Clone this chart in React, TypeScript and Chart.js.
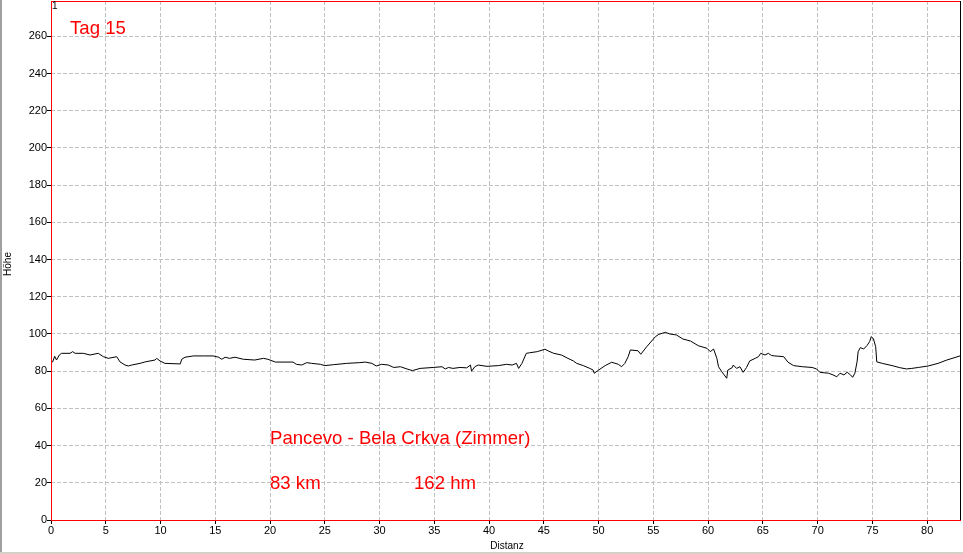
import React, { useEffect, useRef } from "react";
import { Chart, registerables } from "chart.js";

Chart.register(...registerables);

const distKm = [
  0, 0.15, 0.34, 0.5, 0.76, 0.97, 1.74, 1.98, 2.2, 2.95, 3.56, 4.32, 4.78, 5.24, 6.0, 6.3, 6.76, 7.06, 7.36, 8.13,
  8.6, 9.5, 9.65, 9.95, 10.4, 11.8, 11.94, 12.24, 13.0, 13.9, 14.8, 15.3, 15.6, 15.9, 16.3, 16.8, 17.56, 18.6, 19.4,
  19.8, 20.5, 22.1, 22.4, 22.9, 23.35, 23.8, 24.6, 25.0, 25.8, 27.0, 28.2, 28.7, 29.3, 29.7, 30.2, 30.8, 31.3, 31.9,
  32.5, 33.0, 33.7, 34.9, 35.7, 36.0, 36.3, 36.7, 37.35, 37.96, 38.3, 38.4, 38.7, 39.0, 39.8, 40.85, 41.6, 42.1,
  42.5, 42.7, 43.0, 43.4, 43.7, 44.4, 45.1, 45.4, 45.9, 46.6, 47.2, 47.7, 48.0, 48.6, 49.2, 49.5, 49.6, 50.0, 50.6,
  51.2, 51.8, 52.1, 52.4, 52.7, 52.9, 53.6, 53.85, 54.4, 55.2, 55.5, 56.1, 56.5, 57.1, 57.7, 58.4, 59.1, 59.9, 60.2,
  60.5, 60.8, 60.95, 61.25, 61.7, 61.8, 62.2, 62.3, 62.6, 62.9, 63.2, 63.5, 63.8, 64.3, 64.6, 64.8, 65.2, 65.5,
  65.8, 66.1, 66.9, 67.3, 67.8, 68.6, 69.5, 69.9, 70.2, 71.0, 71.4, 71.75, 72.05, 72.4, 72.7, 73.0, 73.2, 73.4,
  73.6, 73.7, 73.9, 74.2, 74.5, 74.75, 74.9, 75.1, 75.3, 75.4, 75.9, 76.8, 77.5, 78.1, 78.6, 79.2, 80.1, 81.0,
  81.8, 83.0,
];

const heightM = [
  84.5, 85, 88, 86, 88.7, 89.6, 89.6, 90.5, 89.6, 89.6, 88.7, 89.6, 87.8, 86.9, 87.8, 85, 83.3, 82.8, 83.3, 84.2,
  85, 86, 86.9, 85.5, 84.2, 83.9, 86.4, 87.5, 88.2, 88.2, 88.2, 87.5, 86.4, 87.5, 86.9, 87.5, 86.4, 86, 86.9,
  86.4, 84.9, 84.9, 83.7, 83.3, 84.6, 84.2, 83.7, 83, 83.5, 84.2, 84.6, 84.9, 84.2, 82.8, 83.7, 83.3, 82, 82.4,
  81.2, 80.3, 81.5, 82, 82.4, 81.2, 82, 81.5, 82, 81.8, 83.3, 80, 82.4, 83.3, 82.6, 83,
  83.7, 83.3, 84.2, 81.5, 84.2, 89.6, 89.9, 90.5, 91.8, 90.9, 89.6, 88.7, 86.9, 85.5, 84.2, 83, 81.5, 80.6, 78.9,
  80.6, 83, 84.8, 83.7, 82.4, 84.2, 87.8, 91.4, 91, 89.1, 93.2, 98.6, 99.8, 100.9, 100, 99.5, 97.3, 96.2, 93.7,
  92.3, 90.5, 91.9, 86.9, 82.4, 79.7, 76.2, 80.6, 81.9, 83.3, 81.5, 82.4, 79.4, 81.9, 85.5, 86.9, 87.8, 89.6,
  88.7, 89.6, 88.4, 88.2, 87.8, 84.8, 83, 82.4, 82, 81.2, 79.4, 78.9, 78, 77, 78.9, 78, 79.4, 78, 76.7, 78.9, 85,
  90.5, 92.7, 91.9, 93.7, 95.9, 98.6, 97.3, 93.2, 85, 84.2, 83, 81.9, 81.2, 81.5, 82, 82.8, 84.2, 86, 88.2,
];

const X_MAX = 83;
const Y_MAX = 279;
const X_STEP = 5;
const Y_STEP = 20;

const titleText = "Tag 15";
const routeText = "Pancevo - Bela Crkva (Zimmer)";
const distText = "83 km";
const climbText = "162 hm";
const xAxisTitle = "Distanz";
const yAxisTitle = "Höhe";

const FONT = "'Liberation Sans', Arial, sans-serif";

const overlay = {
  id: "overlay",
  afterDraw(chart: any) {
    const { ctx } = chart;
    const { left, right, top, bottom } = chart.chartArea;
    ctx.save();
    ctx.setLineDash([]);
    ctx.lineWidth = 1;
    ctx.strokeStyle = "#ff0000";
    ctx.beginPath();
    ctx.moveTo(left + 0.5, top);
    ctx.lineTo(left + 0.5, bottom + 1);
    ctx.moveTo(left, bottom + 0.5);
    ctx.lineTo(right + 1, bottom + 0.5);
    ctx.moveTo(left, top + 0.5);
    ctx.lineTo(right + 1, top + 0.5);
    ctx.stroke();
    ctx.strokeStyle = "#000000";
    ctx.beginPath();
    ctx.moveTo(right + 0.5, top);
    ctx.lineTo(right + 0.5, bottom);
    ctx.stroke();
    ctx.fillStyle = "#a0a0a0";
    ctx.fillRect(0, 0, 2, chart.height);
    ctx.fillStyle = "#d4d0c8";
    ctx.fillRect(0, chart.height - 2, chart.width, 2);

    ctx.fillStyle = "#000";
    ctx.font = `10px ${FONT}`;
    ctx.textAlign = "left";
    ctx.textBaseline = "alphabetic";
    ctx.fillText("1", left + 1, top + 8);

    ctx.font = `10px ${FONT}`;
    ctx.textAlign = "center";
    ctx.textBaseline = "middle";
    ctx.fillText(xAxisTitle, 507, 546);
    ctx.save();
    ctx.translate(8, 264);
    ctx.rotate(-Math.PI / 2);
    ctx.fillText(yAxisTitle, 0, 0);
    ctx.restore();

    ctx.fillStyle = "#ff0000";
    ctx.font = `18.6px ${FONT}`;
    ctx.textAlign = "left";
    ctx.textBaseline = "alphabetic";
    ctx.fillText(titleText, 70, 34);
    ctx.fillText(routeText, 270, 444);
    ctx.fillText(distText, 270, 489);
    ctx.fillText(climbText, 414, 489);
    ctx.restore();
  },
};

export default function App() {
  const ref = useRef<HTMLCanvasElement | null>(null);
  useEffect(() => {
    document.body.style.margin = "0";
    if (!ref.current) return;
    Chart.defaults.font.family = FONT;
    const chart = new Chart(ref.current, {
      type: "line",
      data: {
        datasets: [
          {
            data: distKm.map((x, i) => ({ x, y: heightM[i] })),
            borderColor: "#000000",
            borderWidth: 1,
            pointRadius: 0,
            tension: 0,
            fill: false,
          },
        ],
      },
      options: {
        animation: false,
        responsive: false,
        events: [],
        layout: { padding: { top: 1, right: 3, left: 0, bottom: 0 } },
        plugins: { legend: { display: false }, tooltip: { enabled: false } },
        scales: {
          x: {
            type: "linear",
            min: 0,
            max: X_MAX,
            afterFit: (s: any) => {
              s.height = 34;
              s.paddingLeft = 0;
              s.paddingRight = 0;
            },
            ticks: {
              stepSize: X_STEP,
              includeBounds: false,
              color: "#000",
              padding: 0,
              maxRotation: 0,
              font: { size: 11, family: FONT },
            },
            grid: { color: "#c0c0c0", lineWidth: 1, tickColor: "#000", tickLength: 4, drawTicks: true },
            border: { display: false, dash: [4, 2] },
          },
          y: {
            type: "linear",
            min: 0,
            max: Y_MAX,
            afterFit: (s: any) => {
              s.width = 51;
              s.paddingTop = 0;
              s.paddingBottom = 0;
            },
            ticks: {
              stepSize: Y_STEP,
              includeBounds: false,
              color: "#000",
              padding: 0,
              font: { size: 11, family: FONT },
            },
            grid: { color: "#c0c0c0", lineWidth: 1, tickColor: "#000", tickLength: 4, drawTicks: true },
            border: { display: false, dash: [4, 2] },
          },
        },
      },
      plugins: [overlay],
    });
    return () => chart.destroy();
  }, []);
  return (
    <div style={{ width: 963, height: 554, background: "#fff" }}>
      <canvas ref={ref} width={963} height={554} style={{ display: "block" }} />
    </div>
  );
}
